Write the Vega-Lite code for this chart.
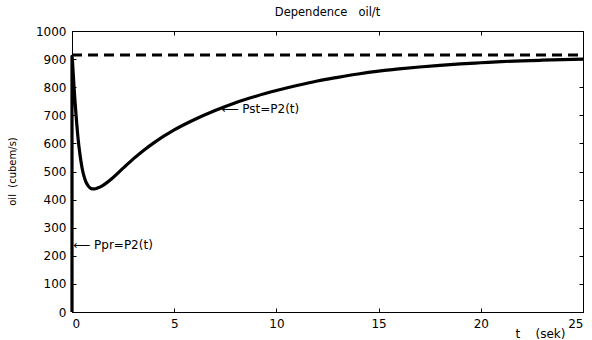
{
  "$schema": "https://vega.github.io/schema/vega-lite/v6.json",
  "width": 511,
  "height": 281,
  "autosize": {"type": "none"},
  "padding": {"left": 72, "top": 31, "right": 9, "bottom": 28},
  "background": "white",
  "config": {
    "view": {"stroke": "black", "strokeWidth": 1},
    "font": "DejaVu Sans",
    "axis": {
      "domainColor": "black", "tickColor": "black", "labelColor": "black", "titleColor": "black",
      "grid": false, "labelFont": "DejaVu Sans", "titleFont": "DejaVu Sans", "labelFontSize": 12,
      "titleFontWeight": "normal", "tickSize": -4, "labelPadding": 10
    }
  },
  "title": {"text": "Dependence\u00a0\u00a0 oil/t", "fontSize": 11.5, "fontWeight": "normal", "font": "DejaVu Sans", "color": "black", "offset": 7},
  "datasets": {
    "curve": [
      {"i": 0, "t": 0, "v": 0},
      {"i": 1, "t": 0, "v": 910},
      {"i": 2, "t": 0.05, "v": 860},
      {"i": 3, "t": 0.1, "v": 800},
      {"i": 4, "t": 0.2, "v": 700},
      {"i": 5, "t": 0.3, "v": 615},
      {"i": 6, "t": 0.4, "v": 555},
      {"i": 7, "t": 0.5, "v": 510},
      {"i": 8, "t": 0.6, "v": 480},
      {"i": 9, "t": 0.7, "v": 460},
      {"i": 10, "t": 0.8, "v": 448},
      {"i": 11, "t": 0.9, "v": 441},
      {"i": 12, "t": 1.0, "v": 438},
      {"i": 13, "t": 1.1, "v": 438},
      {"i": 14, "t": 1.25, "v": 441},
      {"i": 15, "t": 1.5, "v": 450},
      {"i": 16, "t": 2.0, "v": 478},
      {"i": 17, "t": 2.5, "v": 512},
      {"i": 18, "t": 3.0, "v": 545},
      {"i": 19, "t": 3.5, "v": 575},
      {"i": 20, "t": 4.0, "v": 602},
      {"i": 21, "t": 5.0, "v": 648},
      {"i": 22, "t": 6.0, "v": 685},
      {"i": 23, "t": 7.0, "v": 717},
      {"i": 24, "t": 8.0, "v": 745},
      {"i": 25, "t": 9.0, "v": 768},
      {"i": 26, "t": 10.0, "v": 788},
      {"i": 27, "t": 11.0, "v": 806},
      {"i": 28, "t": 12.0, "v": 822},
      {"i": 29, "t": 13.0, "v": 835},
      {"i": 30, "t": 14.0, "v": 847},
      {"i": 31, "t": 15.0, "v": 857},
      {"i": 32, "t": 16.0, "v": 865},
      {"i": 33, "t": 17.0, "v": 872},
      {"i": 34, "t": 18.0, "v": 878},
      {"i": 35, "t": 19.0, "v": 883},
      {"i": 36, "t": 20.0, "v": 887},
      {"i": 37, "t": 21.0, "v": 891},
      {"i": 38, "t": 22.0, "v": 894},
      {"i": 39, "t": 23.0, "v": 896},
      {"i": 40, "t": 24.0, "v": 898},
      {"i": 41, "t": 25.0, "v": 900}
    ],
    "dashed": [{"t": 0, "v": 915}, {"t": 25, "v": 915}],
    "notes": [
      {"t": 7.3, "v": 722, "label": "⟵ Pst=P2(t)"},
      {"t": 0.05, "v": 240, "label": "⟵ Ppr=P2(t)"}
    ]
  },
  "layer": [
    {
      "data": {"name": "curve"},
      "mark": {"type": "line", "color": "black", "strokeWidth": 3.2, "strokeJoin": "round", "interpolate": "monotone"},
      "encoding": {
        "x": {"field": "t", "type": "quantitative", "scale": {"domain": [0, 25], "nice": false},
          "axis": {"values": [0, 5, 10, 15, 20, 25], "format": "d", "title": "t\u00a0\u00a0\u00a0 (sek)", "titleFontSize": 12, "titleX": 468, "titleY": 21, "titleAlign": "center", "titleBaseline": "middle"}},
        "y": {"field": "v", "type": "quantitative", "scale": {"domain": [0, 1000], "nice": false},
          "axis": {"values": [0, 100, 200, 300, 400, 500, 600, 700, 800, 900, 1000], "format": "d", "title": "oil\u00a0 (cubem/s)", "titleFontSize": 10, "titleX": -60, "titleY": 140, "titleAlign": "center", "titleBaseline": "middle"}},
        "order": {"field": "i", "type": "quantitative"}
      }
    },
    {
      "data": {"name": "dashed"},
      "mark": {"type": "line", "color": "black", "strokeWidth": 3, "strokeDash": [10, 6]},
      "encoding": {
        "x": {"field": "t", "type": "quantitative", "axis": {"orient": "top", "values": [0, 5, 10, 15, 20, 25], "labels": false, "domain": false, "title": null}},
        "y": {"field": "v", "type": "quantitative", "axis": {"orient": "right", "values": [0, 100, 200, 300, 400, 500, 600, 700, 800, 900, 1000], "labels": false, "domain": false, "title": null}}
      }
    },
    {
      "data": {"name": "notes"},
      "mark": {"type": "text", "align": "left", "baseline": "middle", "fontSize": 12, "font": "DejaVu Sans", "color": "black"},
      "encoding": {
        "x": {"field": "t", "type": "quantitative", "axis": null},
        "y": {"field": "v", "type": "quantitative", "axis": null},
        "text": {"field": "label"}
      }
    }
  ],
  "resolve": {"axis": {"x": "independent", "y": "independent"}}
}
